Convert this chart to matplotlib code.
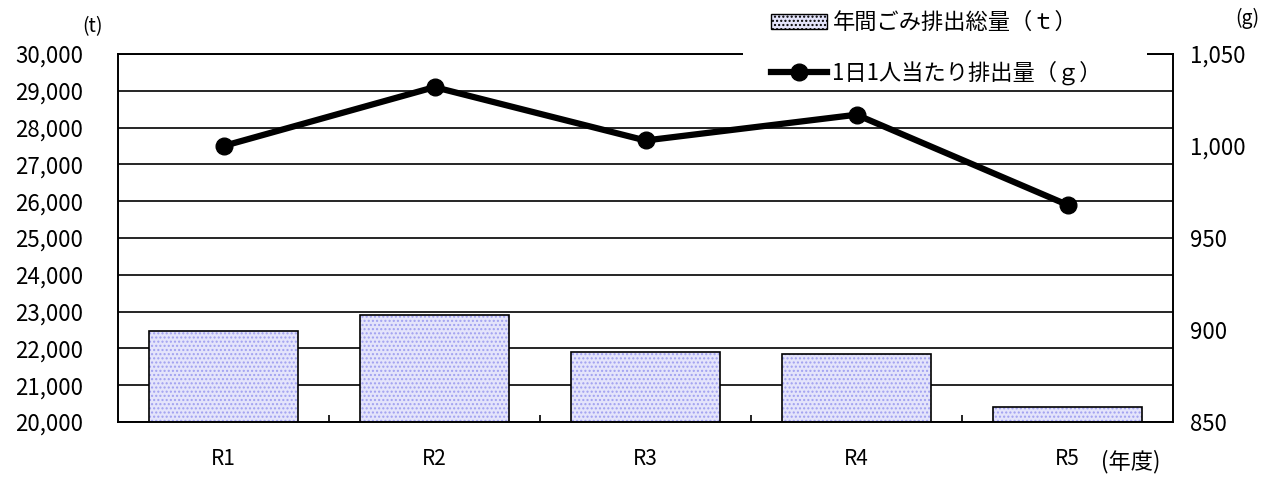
import matplotlib
matplotlib.use("Agg")
import matplotlib.pyplot as plt
from matplotlib.ticker import FuncFormatter
from matplotlib.patches import Patch, Rectangle
from matplotlib.lines import Line2D

plt.rcParams['font.family'] = ['Noto Sans CJK JP', 'DejaVu Sans']

# data
years = ["R1", "R2", "R3", "R4", "R5"]
total_t = [22470, 22910, 21900, 21850, 20410]   # 年間ごみ排出総量 (t)
per_day_g = [1000, 1032, 1003, 1017, 968]       # 1日1人当たり排出量 (g)

fig = plt.figure(figsize=(12.79, 4.88), dpi=100)
ax = fig.add_axes([118/1279, 66/488, (1173-118)/1279, (422-54)/488])
ax2 = ax.twinx()

x = list(range(len(years)))
# dotted fill, then black outline on top
ax.bar(x, total_t, width=0.71, color="#e4e4fb", edgecolor="#a0a0f0",
       hatch="....", linewidth=0, zorder=2)
ax.bar(x, total_t, width=0.71, fill=False, edgecolor="black",
       linewidth=1.2, zorder=3)

ax.set_ylim(20000, 30000)
ax.set_yticks(range(20000, 30001, 1000))
ax.yaxis.set_major_formatter(FuncFormatter(lambda v, p: f"{int(v):,}"))
ax.yaxis.grid(True, color="black", linewidth=1.2, zorder=0)
ax.set_axisbelow(True)
ax.set_xlim(-0.5, 4.5)
ax.set_xticks(x)
ax.set_xticklabels(years)
ax.set_xticks([0.5, 1.5, 2.5, 3.5], minor=True)
ax.tick_params(axis="x", which="major", length=0, pad=19, labelsize=15)
ax.tick_params(axis="x", which="minor", length=5, direction="in", width=1.2)
ax.tick_params(axis="y", length=0, pad=25, labelsize=16)

ax2.plot(x, per_day_g, color="black", linewidth=4.5, marker="o",
         markersize=12, zorder=5)
ax2.set_ylim(850, 1050)
ax2.set_yticks(range(850, 1051, 50))
ax2.yaxis.set_major_formatter(FuncFormatter(lambda v, p: f"{int(v):,}"))
ax2.tick_params(axis="y", length=0, pad=12, labelsize=16)

for a in (ax, ax2):
    for s in a.spines.values():
        s.set_linewidth(1.2)

fig.text(92/1279, 1 - 27/488, "(t)", fontsize=14, ha="center", va="center")
fig.text(1247/1279, 1 - 18/488, "(g)", fontsize=14, ha="center", va="center")
fig.text(1131/1279, 1 - 462/488, "(年度)", fontsize=16, ha="center", va="center")

# white box behind the legend, hides the top grid line there
fig.patches.append(Rectangle((743/1279, 1 - 86/488), 404/1279, 86/488,
                             transform=fig.transFigure, facecolor="white",
                             edgecolor="none", zorder=5))

handles = [
    Patch(facecolor="#e4e4fb", edgecolor="black", hatch="....", linewidth=1),
    Line2D([0], [0], color="black", linewidth=4.5, marker="o", markersize=12),
]
labels = ["年間ごみ排出総量（ｔ）", "1日1人当たり排出量（ｇ）"]
leg = fig.legend(handles, labels, loc="upper left",
                 bbox_to_anchor=(768/1279, 1 - 8/488), frameon=False,
                 fontsize=16, handlelength=2.5, borderpad=0.15,
                 labelspacing=1.2, handletextpad=0.25, borderaxespad=0)
leg.set_zorder(10)

fig.savefig("out.png", dpi=100)
